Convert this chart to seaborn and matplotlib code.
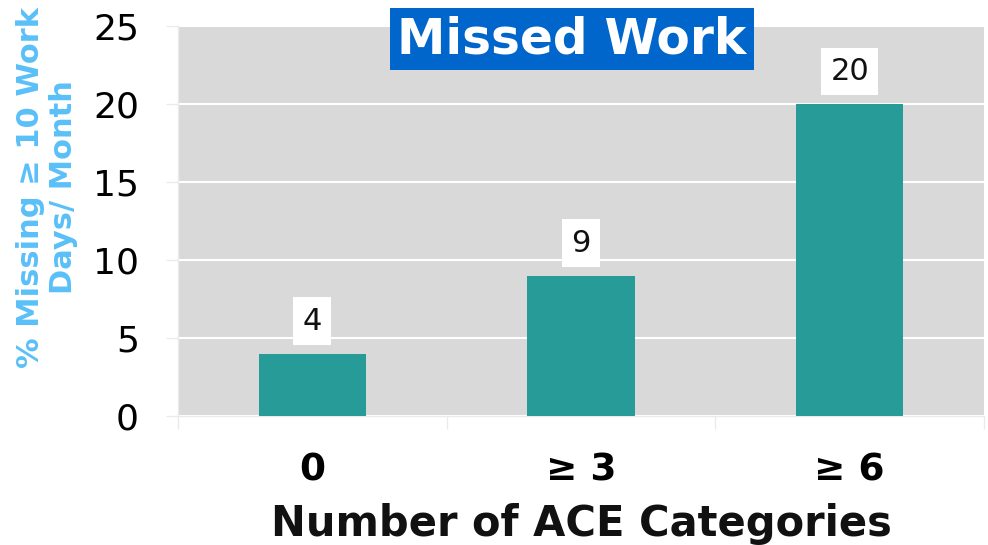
import matplotlib
matplotlib.use("Agg")
import matplotlib.pyplot as plt
import seaborn as sns
import pandas as pd

categories = ["0", "\u2265 3", "\u2265 6"]
values = [4, 9, 20]
y_ticks = [0, 5, 10, 15, 20, 25]
title = "Missed Work"
x_label = "Number of ACE Categories"
y_label = "% Missing \u2265 10 Work\nDays/ Month"

sns.set_theme(style="white")
plt.rcParams['font.family'] = ['DejaVu Sans']

df = pd.DataFrame({"cat": categories, "val": values})

fig = plt.figure(figsize=(9.88, 5.45), dpi=100)
ax = fig.add_axes([178/988, 1-416/545, (984-178)/988, (416-26)/545])
ax.set_facecolor("#D9D9D9")

sns.barplot(data=df, x="cat", y="val", color="#269B98", width=0.4,
            saturation=1, ax=ax, zorder=3, linewidth=0, edgecolor="none")

ax.set_ylim(0, 25)
ax.set_xlim(-0.5, 2.5)
ax.set_yticks(y_ticks)
ax.set_yticklabels([str(t) for t in y_ticks], fontsize=26, color="black")
ax.yaxis.grid(True, color="white", linewidth=1.5, zorder=1)
ax.set_axisbelow(True)

for s in ["top", "right"]:
    ax.spines[s].set_visible(False)
for s in ["left", "bottom"]:
    ax.spines[s].set_visible(True)
    ax.spines[s].set_color("#EBEBEB")
    ax.spines[s].set_linewidth(1)

ax.tick_params(axis="y", which="major", length=9, width=1, color="#EBEBEB",
               direction="out", pad=19, left=True)
ax.set_xticks([-0.5, 0.5, 1.5, 2.5], minor=True)
ax.tick_params(axis="x", which="minor", length=9, width=1, color="#EBEBEB",
               direction="out", bottom=True)
ax.tick_params(axis="x", which="major", length=0, pad=26, labelsize=27,
               labelcolor="black")
for lab in ax.get_xticklabels():
    lab.set_fontweight("bold")

ax.set_xlabel(x_label, fontsize=30, fontweight="bold", color="#111111")
ax.xaxis.set_label_coords(0.5, -0.222)
ax.set_ylabel("")

for cont in ax.containers:
    ax.bar_label(cont, labels=[str(v) for v in values], fontsize=22,
                 padding=13, color="#111111",
                 bbox=dict(boxstyle="square,pad=0.3", facecolor="white",
                           edgecolor="none"))

fig.text(47/988, 1-187/545, y_label, rotation=90, ha="center", va="center",
         multialignment="center", fontsize=22, fontweight="bold",
         color="#5BC0F8", linespacing=1.15)

fig.text(572/988, 1-39/545, title, ha="center", va="center", fontsize=35,
         fontweight="bold", color="white",
         bbox=dict(boxstyle="square,pad=0.15", facecolor="#0066CC",
                   edgecolor="none"))

fig.savefig("out.png", dpi=100)
